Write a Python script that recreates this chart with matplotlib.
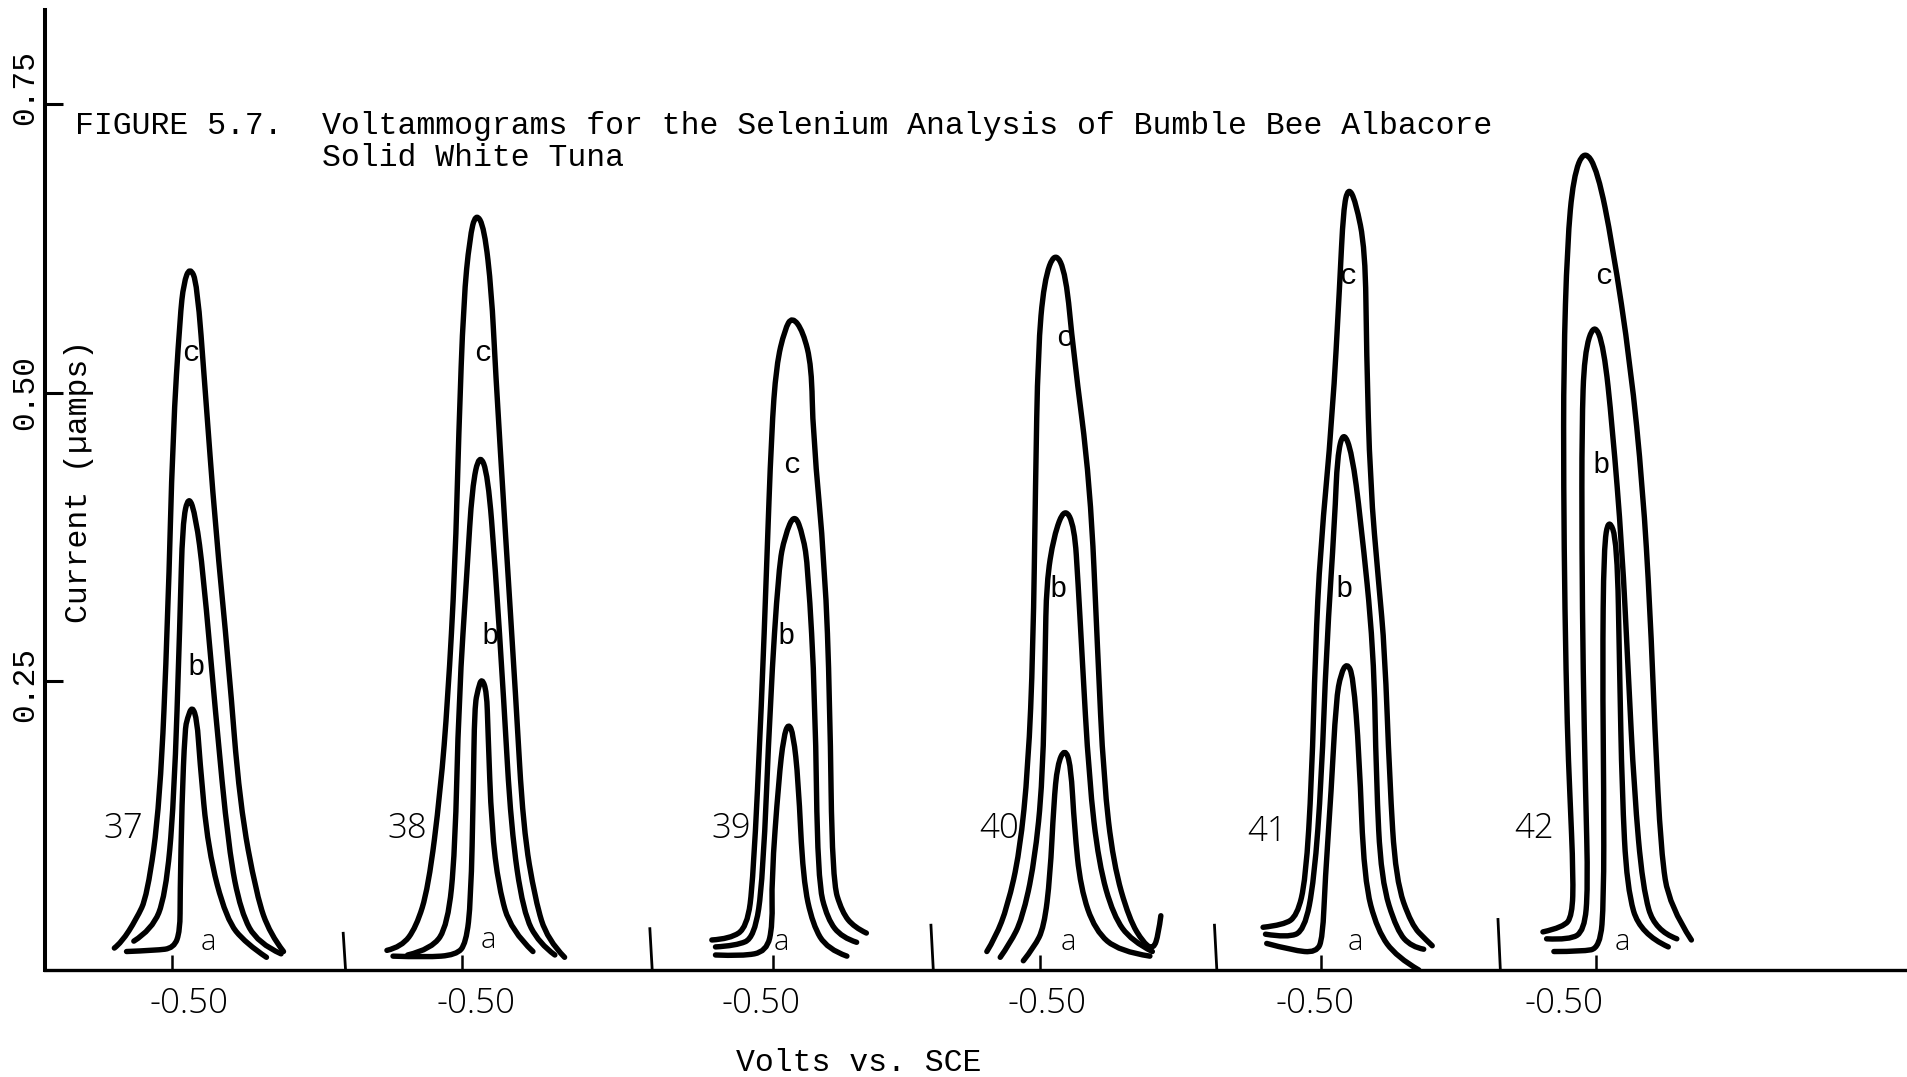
import matplotlib
matplotlib.use("Agg")
import matplotlib.pyplot as plt
from matplotlib.path import Path
from matplotlib.patches import PathPatch

# Voltammograms: (position along the x axis, current in uA)
# one list per curve; a = sample, b and c = standard additions
SCAN_37_A = [(104, 0.016), (128, 0.017), (143, 0.019), (148, 0.034), (148, 0.064), (149.5, 0.144),
             (152, 0.208), (154, 0.218), (158, 0.229), (162, 0.216), (164, 0.184), (171, 0.104),
             (186, 0.044), (202, 0.023), (219, 0.011)]
SCAN_37_B = [(110, 0.025), (125, 0.035), (136, 0.064), (143, 0.144), (148, 0.305), (150, 0.387),
             (155, 0.412), (161, 0.392), (167, 0.344), (177, 0.224), (188, 0.104), (198, 0.050),
             (212, 0.023), (231, 0.014)]
SCAN_37_C = [(94, 0.019), (100, 0.024), (112, 0.044), (121, 0.064), (131.5, 0.144), (138, 0.305),
             (142, 0.464), (148, 0.566), (151, 0.595), (156, 0.609), (162, 0.595), (168.5, 0.504),
             (177, 0.384), (188, 0.264), (197, 0.144), (211, 0.064), (222, 0.031), (233, 0.016)]

SCAN_38_A = [(323, 0.012), (350, 0.011), (375, 0.013), (383, 0.023), (387, 0.060), (389, 0.155),
             (390, 0.228), (393, 0.244), (396, 0.253), (400, 0.241), (401, 0.208), (404, 0.123),
             (410, 0.071), (420, 0.034), (438, 0.016)]
SCAN_38_B = [(335, 0.013), (355, 0.018), (368, 0.039), (374, 0.102), (377, 0.234), (384, 0.349),
             (388, 0.418), (394, 0.448), (401, 0.429), (407, 0.349), (414, 0.234), (420, 0.123),
             (430, 0.050), (443, 0.023), (456, 0.013)]
SCAN_38_C = [(318, 0.017), (330, 0.020), (342, 0.037), (352, 0.071), (362, 0.155), (368, 0.234),
             (374, 0.349), (377, 0.465), (381, 0.580), (386, 0.634), (391, 0.656), (398, 0.643),
             (404, 0.587), (407, 0.523), (415, 0.384), (424, 0.234), (430, 0.123), (440, 0.060),
             (450, 0.026), (464, 0.011)]

SCAN_39_A = [(588, 0.013), (610, 0.012), (630, 0.016), (635, 0.039), (634, 0.078), (640, 0.165),
             (644, 0.202), (648, 0.214), (652, 0.204), (656, 0.165), (660, 0.078), (668, 0.039),
             (680, 0.018), (696, 0.012)]
SCAN_39_B = [(588, 0.020), (605, 0.021), (620, 0.028), (627, 0.078), (633, 0.234), (640, 0.349),
             (645, 0.376), (653, 0.396), (660, 0.376), (664, 0.349), (670, 0.234), (672, 0.078),
             (680, 0.044), (692, 0.028), (704, 0.024)]
SCAN_39_C = [(585, 0.026), (600, 0.027), (614, 0.037), (619, 0.078), (626, 0.234), (630, 0.349),
             (634, 0.465), (638, 0.524), (645, 0.555), (651, 0.566), (660, 0.553), (667, 0.523),
             (668, 0.465), (678, 0.349), (682, 0.234), (684, 0.078), (692, 0.050), (702, 0.037),
             (712, 0.032)]

SCAN_40_A = [(841, 0.008), (850, 0.020), (858, 0.037), (863, 0.081), (866, 0.144), (869, 0.178),
             (875, 0.192), (880, 0.178), (883, 0.123), (888, 0.071), (900, 0.034), (920, 0.016),
             (945, 0.012)]
SCAN_40_B = [(822, 0.011), (830, 0.023), (840, 0.044), (850, 0.092), (857, 0.165), (859, 0.277),
             (860, 0.335), (866, 0.376), (875, 0.401), (883, 0.384), (886, 0.335), (889, 0.277),
             (895, 0.165), (903, 0.092), (915, 0.047), (930, 0.025), (947, 0.016)]
SCAN_40_C = [(811, 0.016), (818, 0.028), (828, 0.055), (838, 0.102), (845, 0.176), (849, 0.277),
             (851, 0.421), (853, 0.536), (858, 0.597), (867, 0.623), (876, 0.603), (882, 0.536),
             (896, 0.421), (902, 0.277), (907, 0.165), (915, 0.092), (928, 0.044), (940, 0.023),
             (948, 0.018), (952, 0.031), (954, 0.047)]

SCAN_41_A = [(1041, 0.023), (1062, 0.017), (1082, 0.015), (1087, 0.028), (1089, 0.078), (1094, 0.155),
             (1098, 0.234), (1102, 0.257), (1107, 0.266), (1112, 0.255), (1117, 0.187), (1121, 0.078),
             (1132, 0.034), (1148, 0.011), (1166, 0.000)]
SCAN_41_B = [(1040, 0.031), (1058, 0.028), (1072, 0.034), (1080, 0.078), (1086, 0.165), (1090, 0.277),
             (1097, 0.392), (1099, 0.445), (1104, 0.467), (1111, 0.448), (1118, 0.392), (1129, 0.277),
             (1131, 0.165), (1135, 0.078), (1148, 0.034), (1160, 0.020), (1170, 0.018)]
SCAN_41_C = [(1038, 0.037), (1055, 0.039), (1066, 0.047), (1073, 0.078), (1078, 0.165), (1081, 0.277),
             (1085, 0.364), (1095, 0.479), (1101, 0.594), (1104, 0.659), (1108, 0.678), (1114, 0.666),
             (1122, 0.624), (1123, 0.536), (1126, 0.421), (1133, 0.335), (1138, 0.277), (1142, 0.165),
             (1147, 0.078), (1160, 0.039), (1172, 0.026), (1177, 0.021)]

SCAN_42_A = [(1277, 0.016), (1300, 0.016), (1315, 0.019), (1318, 0.060), (1318, 0.155), (1317, 0.260),
             (1318, 0.366), (1322, 0.392), (1329, 0.371), (1331, 0.260), (1333, 0.155), (1337, 0.071),
             (1348, 0.031), (1371, 0.020)]
SCAN_42_B = [(1271, 0.027), (1290, 0.026), (1302, 0.034), (1305, 0.071), (1303, 0.155), (1301, 0.260),
             (1300, 0.366), (1300, 0.471), (1302, 0.534), (1310, 0.561), (1318, 0.540), (1325, 0.471),
             (1333, 0.366), (1338, 0.260), (1343, 0.155), (1350, 0.071), (1360, 0.034), (1378, 0.027)]
SCAN_42_C = [(1268, 0.033), (1285, 0.037), (1292, 0.047), (1293, 0.081), (1290, 0.155), (1288, 0.208),
             (1286, 0.313), (1285, 0.418), (1285, 0.524), (1288, 0.629), (1293, 0.687), (1302, 0.711),
             (1313, 0.692), (1325, 0.629), (1340, 0.524), (1350, 0.418), (1356, 0.313), (1360, 0.208),
             (1365, 0.102), (1372, 0.055), (1390, 0.026)]

SCAN_IDS = ["37", "38", "39", "40", "41", "42"]
SCANS = [
    (SCAN_37_A, SCAN_37_B, SCAN_37_C),
    (SCAN_38_A, SCAN_38_B, SCAN_38_C),
    (SCAN_39_A, SCAN_39_B, SCAN_39_C),
    (SCAN_40_A, SCAN_40_B, SCAN_40_C),
    (SCAN_41_A, SCAN_41_B, SCAN_41_C),
    (SCAN_42_A, SCAN_42_B, SCAN_42_C),
]

Y_TICKS = [0.25, 0.50, 0.75]
Y_TICK_LABELS = ["0.25", "0.50", "0.75"]
X_TICKS = [141, 380, 635, 855, 1086, 1312]
X_TICK_LABEL = "-0.50"

# layout of the hand lettering and the separator marks
X_LABEL_POS = [155, 391, 625, 860, 1081, 1285]
SEPARATOR_X = [284, 536, 767, 1000, 1233]
SEPARATOR_TOP = [0.033, 0.037, 0.040, 0.040, 0.045]
ID_POS = [(101, 0.122), (335, 0.122), (601, 0.122), (821, 0.122), (1041, 0.120), (1261, 0.122)]
LETTER_POS = {
    "a": [(171, 0.024), (401, 0.026), (642, 0.024), (878, 0.024), (1114, 0.024), (1333, 0.024)],
    "b": [(161, 0.262), (403, 0.289), (646, 0.289), (870, 0.330), (1105, 0.330), (1316, 0.437)],
    "c": [(157, 0.534), (397, 0.534), (651, 0.437), (875, 0.547), (1108, 0.601), (1318, 0.601)],
}

TYPE = "Liberation Mono"
HAND = "Open Sans"
W, H = 1908, 1077


def smooth_path(points):
    # quadratic b-spline through the read points so the pen strokes stay round
    verts = [points[0]]
    codes = [Path.MOVETO]
    n = len(points)
    for i in range(1, n - 1):
        if i == n - 2:
            end = points[-1]
        else:
            end = ((points[i][0] + points[i + 1][0]) / 2, (points[i][1] + points[i + 1][1]) / 2)
        verts += [points[i], end]
        codes += [Path.CURVE3, Path.CURVE3]
    return Path(verts, codes)


fig = plt.figure(figsize=(W / 100, H / 100), dpi=100)
ax = fig.add_axes([45 / W, 107 / H, 1 - 45 / W, 960 / H])
ax.set_xlim(37, 1568)
ax.set_ylim(0, 0.8314)

for scan in SCANS:
    for curve in scan:
        ax.add_patch(PathPatch(smooth_path(curve), fill=False, lw=3.9, color="black",
                               capstyle="round", joinstyle="round"))

for x, top in zip(SEPARATOR_X, SEPARATOR_TOP):
    ax.plot([x, x - 2], [0, top], color="black", lw=2.0, solid_capstyle="butt")

for spine in ["top", "right"]:
    ax.spines[spine].set_visible(False)
ax.spines["left"].set_linewidth(2.9)
ax.spines["bottom"].set_linewidth(2.4)

ax.set_yticks(Y_TICKS)
ax.tick_params(axis="y", direction="in", length=13, width=2.2, labelleft=False)
ax.set_xticks(X_TICKS)
ax.tick_params(axis="x", direction="in", length=11, width=1.8, labelbottom=False)

for v, lbl, dy in zip(Y_TICKS, Y_TICK_LABELS, [-2, 0, 12]):
    ax.annotate(lbl, xy=(0, v), xycoords=ax.get_yaxis_transform(), xytext=(-14.5, dy),
                textcoords="offset points", rotation=90, ha="center", va="center",
                family=TYPE, fontsize=22.5)

for x in X_LABEL_POS:
    ax.annotate(X_TICK_LABEL, xy=(x, 0), xytext=(0, -31), textcoords="offset points",
                ha="center", va="baseline", family=HAND, fontweight="light", fontsize=25,
                annotation_clip=False)

for sid, (x, y) in zip(SCAN_IDS, ID_POS):
    ax.text(x, y, sid, ha="center", va="center", family=HAND, fontweight="light", fontsize=25)

for letter, positions in LETTER_POS.items():
    for x, y in positions:
        if letter == "a":
            ax.text(x, y, letter, ha="center", va="center", family=HAND, fontweight="light", fontsize=21)
        else:
            ax.text(x, y, letter, ha="center", va="center", family=TYPE, fontsize=21)

fig.text(75 / W, 1 - 134 / H, "FIGURE 5.7.", ha="left", va="baseline", family=TYPE, fontsize=22.7)
fig.text(322 / W, 1 - 134 / H, "Voltammograms for the Selenium Analysis of Bumble Bee Albacore",
         ha="left", va="baseline", family=TYPE, fontsize=22.7)
fig.text(322 / W, 1 - 166 / H, "Solid White Tuna", ha="left", va="baseline", family=TYPE, fontsize=22.7)
fig.text(79 / W, 1 - 481 / H, "Current (µamps)", rotation=90, ha="center", va="center",
         family=TYPE, fontsize=22.7)
fig.text(859 / W, 1 - 1071 / H, "Volts vs. SCE", ha="center", va="baseline", family=TYPE, fontsize=22.7)

fig.savefig("out.png", dpi=100)
